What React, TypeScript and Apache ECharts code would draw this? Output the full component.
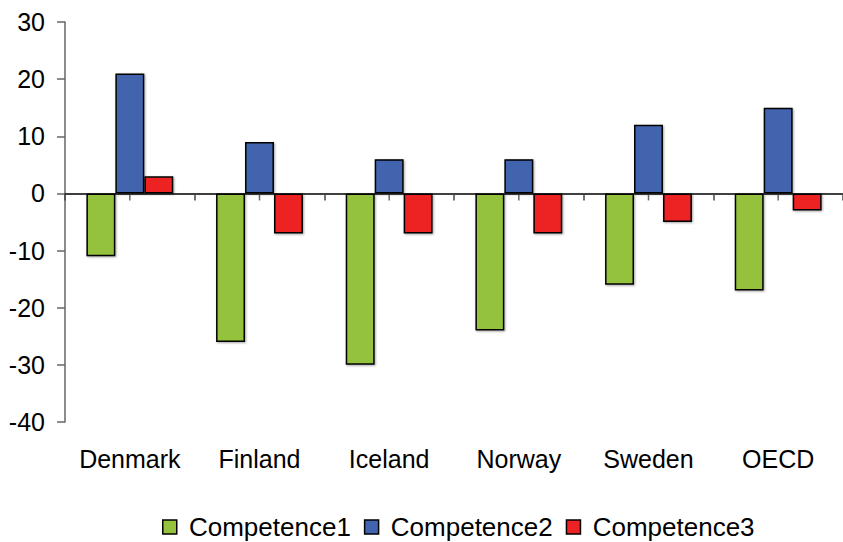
import React, { useEffect, useRef } from "react";
import * as echarts from "echarts";

const categories = ["Denmark", "Finland", "Iceland", "Norway", "Sweden", "OECD"];
const competence1 = [-11, -26, -30, -24, -16, -17];
const competence2 = [21, 9, 6, 6, 12, 15];
const competence3 = [3, -7, -7, -7, -5, -3];
const seriesNames = ["Competence1", "Competence2", "Competence3"];
const colors = ["#95C23D", "#4264AE", "#ED2224"];
const yMin = -40;
const yMax = 30;
const yStep = 10;

export default function App() {
  const ref = useRef<HTMLDivElement>(null);
  useEffect(() => {
    if (!ref.current) return;
    const chart = echarts.init(ref.current, null, { renderer: "svg" });
    const font = "Liberation Sans, Arial, sans-serif";
    const data = [competence1, competence2, competence3];
    chart.setOption({
      animation: false,
      grid: { left: 65, top: 22, right: 0, bottom: 120, containLabel: false },
      legend: {
        top: 514,
        left: 162,
        padding: 0,
        icon: "rect",
        itemWidth: 14,
        itemHeight: 14,
        itemGap: 13,
        formatter: (n: string) => " " + n,
        textStyle: { fontFamily: font, fontSize: 26, color: "#000" },
        data: seriesNames.map((n) => ({ name: n, itemStyle: { borderColor: "#000", borderWidth: 1.5 } })),
      },
      xAxis: [
        {
          type: "category",
          data: categories,
          position: "bottom",
          axisLine: { onZero: true, lineStyle: { color: "#000", width: 1.5 } },
          axisTick: { show: true, length: 7, lineStyle: { color: "#444", width: 1.5 } },
          axisLabel: { show: false },
        },
        {
          type: "category",
          data: categories,
          position: "bottom",
          axisLine: { show: false, onZero: false },
          axisTick: { show: false },
          axisLabel: { show: true, interval: 0, fontFamily: font, fontSize: 25, color: "#000", margin: 24 },
        },
      ],
      yAxis: {
        type: "value",
        min: yMin,
        max: yMax,
        interval: yStep,
        axisLine: { show: true, lineStyle: { color: "#666", width: 1.5 } },
        axisTick: { show: true, length: 8, lineStyle: { color: "#666", width: 1.5 } },
        axisLabel: { fontFamily: font, fontSize: 25, color: "#000", margin: 20 },
        splitLine: { show: false },
      },
      series: [
        ...seriesNames.map((name, i) => ({
          name,
          type: "bar",
          xAxisIndex: 0,
          data: data[i],
          barGap: "0%",
          barCategoryGap: "33%",
          itemStyle: {
            color: colors[i],
            borderColor: "#000",
            borderWidth: 1.5,
            shadowColor: "rgba(0,0,0,0.35)",
            shadowBlur: 2,
            shadowOffsetX: 1,
            shadowOffsetY: 1,
          },
        })),
        {
          name: "centerTicks",
          type: "scatter",
          xAxisIndex: 0,
          silent: true,
          symbol: "rect",
          symbolSize: [1.5, 7],
          symbolOffset: [0, 3.5],
          itemStyle: { color: "#444" },
          data: categories.map((c) => [c, 0]),
          z: 1,
        },
      ],
    });
    return () => chart.dispose();
  }, []);
  return <div ref={ref} style={{ width: 843, height: 542, position: "absolute", left: 0, top: 0 }} />;
}
